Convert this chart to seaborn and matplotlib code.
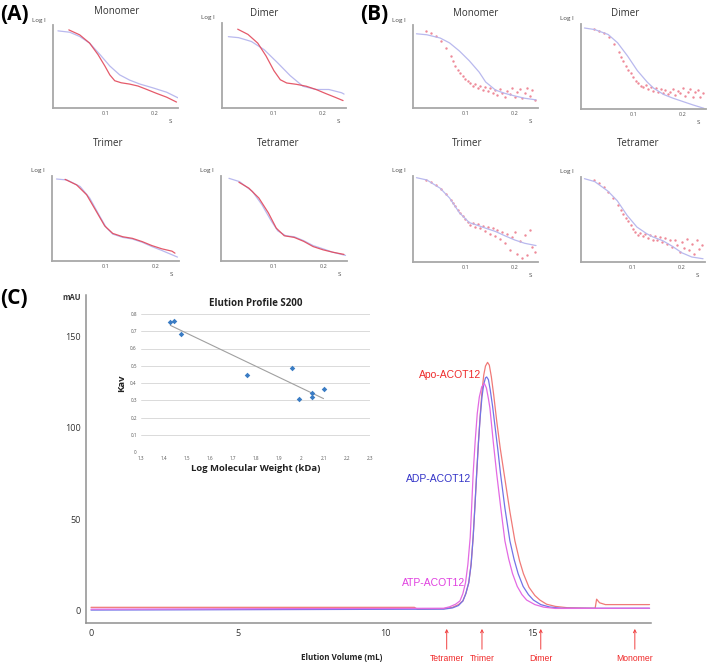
import numpy as np
import pandas as pd
import seaborn as sns
import matplotlib.pyplot as plt

W, H = 713, 664

# ---- SAXS fits, (A) and (B): s values and log I scaled to the axis height ----
a_mono_fit_s = [0.004, 0.028, 0.048, 0.068, 0.089, 0.109, 0.129, 0.149, 0.170, 0.197, 0.224, 0.247]
a_mono_fit_i = [0.948, 0.931, 0.879, 0.798, 0.657, 0.516, 0.407, 0.343, 0.294, 0.246, 0.194, 0.125]
a_mono_exp_s = [0.026, 0.048, 0.068, 0.085, 0.099, 0.109, 0.119, 0.132, 0.149, 0.166, 0.183, 0.203, 0.224, 0.244]
a_mono_exp_i = [0.960, 0.899, 0.798, 0.657, 0.516, 0.407, 0.335, 0.310, 0.294, 0.270, 0.230, 0.181, 0.133, 0.073]

a_dim_fit_s = [0.007, 0.028, 0.054, 0.080, 0.107, 0.133, 0.159, 0.186, 0.212, 0.238, 0.243]
a_dim_fit_i = [0.856, 0.844, 0.798, 0.700, 0.545, 0.389, 0.261, 0.222, 0.222, 0.183, 0.167]
a_dim_exp_s = [0.026, 0.047, 0.067, 0.084, 0.100, 0.113, 0.126, 0.146, 0.166, 0.186, 0.205, 0.225, 0.241]
a_dim_exp_i = [0.946, 0.883, 0.778, 0.623, 0.447, 0.339, 0.300, 0.284, 0.261, 0.222, 0.175, 0.128, 0.089]

a_tri_fit_s = [0.003, 0.024, 0.050, 0.069, 0.089, 0.102, 0.115, 0.135, 0.154, 0.174, 0.193, 0.213, 0.244]
a_tri_fit_i = [0.984, 0.972, 0.894, 0.756, 0.539, 0.402, 0.323, 0.283, 0.264, 0.224, 0.173, 0.126, 0.047]
a_tri_exp_s = [0.020, 0.043, 0.063, 0.082, 0.099, 0.115, 0.135, 0.154, 0.174, 0.193, 0.213, 0.233, 0.239]
a_tri_exp_i = [0.980, 0.913, 0.795, 0.598, 0.421, 0.331, 0.291, 0.272, 0.232, 0.185, 0.146, 0.118, 0.094]

a_tet_fit_s = [0.010, 0.031, 0.057, 0.076, 0.095, 0.108, 0.124, 0.141, 0.160, 0.179, 0.199, 0.218, 0.244]
a_tet_fit_i = [0.992, 0.953, 0.835, 0.677, 0.480, 0.362, 0.303, 0.291, 0.244, 0.185, 0.146, 0.106, 0.067]
a_tet_exp_s = [0.030, 0.050, 0.070, 0.089, 0.105, 0.121, 0.141, 0.160, 0.179, 0.199, 0.218, 0.241]
a_tet_exp_i = [0.945, 0.874, 0.756, 0.579, 0.394, 0.303, 0.283, 0.236, 0.173, 0.134, 0.106, 0.079]

b_fit_s = [0.001, 0.022, 0.049, 0.068, 0.088, 0.108, 0.128, 0.141, 0.161, 0.180, 0.200, 0.220, 0.243]
b_mono_fit_i = [0.912, 0.900, 0.860, 0.800, 0.700, 0.580, 0.440, 0.320, 0.220, 0.180, 0.148, 0.120, 0.100]
b_dim_fit_i = [0.972, 0.953, 0.894, 0.795, 0.638, 0.461, 0.323, 0.250, 0.175, 0.130, 0.090, 0.050, 0.008]
b_tri_fit_i = [1.000, 0.973, 0.875, 0.759, 0.584, 0.467, 0.428, 0.401, 0.362, 0.311, 0.261, 0.222, 0.195]
b_tet_fit_i = [1.000, 0.965, 0.850, 0.735, 0.560, 0.420, 0.340, 0.300, 0.255, 0.190, 0.110, 0.060, 0.039]

b_exp_s = [0.020, 0.030, 0.040, 0.050, 0.060, 0.070, 0.075, 0.080, 0.085, 0.090, 0.095, 0.100,
           0.105, 0.110, 0.115, 0.120, 0.125, 0.130, 0.135, 0.140, 0.145, 0.150, 0.155, 0.160,
           0.165, 0.170, 0.175, 0.180, 0.185, 0.190, 0.195, 0.200, 0.205, 0.210, 0.215, 0.220,
           0.225, 0.230, 0.235, 0.240]
b_mono_exp_i = [0.95, 0.92, 0.88, 0.82, 0.74, 0.64, 0.58, 0.52, 0.47, 0.43, 0.39, 0.36,
                0.33, 0.31, 0.27, 0.29, 0.25, 0.27, 0.22, 0.26, 0.21, 0.24, 0.18, 0.22,
                0.16, 0.23, 0.19, 0.14, 0.21, 0.17, 0.25, 0.13, 0.20, 0.23, 0.12, 0.18,
                0.24, 0.15, 0.22, 0.10]
b_dim_exp_i = [0.96, 0.94, 0.91, 0.86, 0.78, 0.69, 0.63, 0.58, 0.52, 0.47, 0.43, 0.38,
               0.34, 0.31, 0.28, 0.27, 0.29, 0.24, 0.27, 0.22, 0.25, 0.21, 0.24, 0.19,
               0.23, 0.18, 0.21, 0.24, 0.17, 0.22, 0.19, 0.25, 0.16, 0.21, 0.24, 0.15,
               0.20, 0.23, 0.14, 0.19]
b_tri_exp_i = [0.975, 0.95, 0.91, 0.87, 0.81, 0.74, 0.70, 0.66, 0.62, 0.58, 0.54, 0.51,
               0.47, 0.44, 0.46, 0.42, 0.45, 0.40, 0.43, 0.37, 0.42, 0.33, 0.40, 0.31,
               0.38, 0.27, 0.36, 0.22, 0.33, 0.14, 0.30, 0.36, 0.10, 0.25, 0.05, 0.32,
               0.08, 0.38, 0.18, 0.12]
b_tet_exp_i = [0.98, 0.95, 0.90, 0.84, 0.77, 0.68, 0.63, 0.58, 0.53, 0.49, 0.44, 0.40,
               0.36, 0.33, 0.35, 0.31, 0.34, 0.29, 0.33, 0.27, 0.31, 0.26, 0.30, 0.24,
               0.29, 0.22, 0.27, 0.18, 0.26, 0.20, 0.12, 0.24, 0.17, 0.28, 0.14, 0.22,
               0.10, 0.26, 0.16, 0.21]

# ---- (C) size exclusion traces: elution volume (mL), absorbance (mAU) ----
apo_ml = [0.0, 11.0, 11.1, 12.0, 12.3, 12.5, 12.65, 12.75, 12.85, 12.93, 13.0, 13.06, 13.12,
          13.18, 13.24, 13.30, 13.36, 13.42, 13.49, 13.55, 13.62, 13.70, 13.80, 13.92, 14.08,
          14.25, 14.42, 14.58, 14.71, 14.9, 15.1, 15.27, 15.5, 15.8, 16.2, 17.15, 17.2, 17.3,
          17.5, 19.0]
apo_mau = [1.5, 1.5, 0.5, 0.8, 1.5, 3, 5, 9, 15, 25, 40, 57, 75,
           92, 107, 120, 129, 134, 136, 134.5, 128, 118, 104, 89, 72,
           54, 38, 27, 20, 12.5, 8, 5.5, 3.2, 2, 1.3, 1.0, 6, 4,
           3, 3]
adp_ml = [0.0, 12.0, 12.3, 12.5, 12.65, 12.75, 12.85, 12.93, 13.0, 13.06, 13.12, 13.18,
          13.24, 13.30, 13.36, 13.42, 13.46, 13.52, 13.58, 13.66, 13.75, 13.84, 13.93, 14.08,
          14.25, 14.39, 14.53, 14.7, 14.88, 15.05, 15.3, 15.6, 16.0, 19.0]
adp_mau = [0, 0.5, 1.2, 2.5, 5, 9, 15, 25, 40, 57, 75, 92,
           106, 117, 124, 127.5, 128, 126.5, 121, 112, 100, 88, 75, 56,
           38, 28, 20, 13, 8.5, 5.5, 3, 1.7, 1.0, 1]
atp_ml = [0.0, 12.0, 12.2, 12.4, 12.55, 12.65, 12.74, 12.82, 12.9, 12.95, 13.0, 13.07,
          13.14, 13.21, 13.29, 13.38, 13.45, 13.52, 13.57, 13.68, 13.8, 13.94, 14.08, 14.21,
          14.34, 14.5, 14.66, 14.82, 15.1, 15.4, 15.8, 19.0]
atp_mau = [0.5, 1, 1.8, 3.2, 5, 9, 15, 25, 40, 57, 75, 93,
           108, 117, 122.5, 124.5, 122, 116, 111, 93, 75, 56, 38, 28,
           20, 13, 8.5, 5.5, 3, 1.6, 0.9, 1]

standard_names = ['Tetramer', 'Trimer', 'Dimer', 'Monomer']
standard_ml = [12.1, 13.3, 15.3, 18.5]

# ---- inset calibration ----
log_mw = [1.428, 1.446, 1.475, 1.761, 1.960, 1.992, 2.045, 2.045, 2.097]
kav = [0.753, 0.759, 0.683, 0.445, 0.485, 0.305, 0.342, 0.317, 0.363]

sns.set_theme(style="white")
plt.rcParams['font.family'] = ['Open Sans', 'DejaVu Sans']

BLUE = '#b9b9ee'
RED = '#e2485a'
PINK = '#ee8a98'
GREY = '#a8a8a8'

fig = plt.figure(figsize=(W / 100, H / 100), dpi=100)


def box(l, t, r, b):
    return fig.add_axes([l / W, 1 - b / H, (r - l) / W, (b - t) / H])


def saxs_panel(rect, title, title_xy, fit_s, fit_i, exp_s, exp_i, dots):
    ax = box(*rect)
    sns.lineplot(x=fit_s, y=fit_i, ax=ax, color=BLUE, lw=0.9, estimator=None)
    if dots:
        sns.scatterplot(x=exp_s, y=exp_i, ax=ax, color=PINK, s=3, linewidth=0)
    else:
        sns.lineplot(x=exp_s, y=exp_i, ax=ax, color=RED, lw=0.9, estimator=None, alpha=0.9)
    ax.set_xlim(-0.006, 0.247)
    ax.set_ylim(0, 1.02)
    ax.set_xticks([0.1, 0.2])
    ax.set_xticklabels(['0.1', '0.2'], fontsize=4, color='#555555')
    ax.set_yticks([])
    ax.tick_params(axis='x', length=0, pad=2)
    for side in ['top', 'right']:
        ax.spines[side].set_visible(False)
    for side in ['left', 'bottom']:
        ax.spines[side].set_color(GREY)
        ax.spines[side].set_linewidth(1.3)
    ax.text(-0.06, 1.03, 'Log I', transform=ax.transAxes, ha='right', va='bottom',
            fontsize=4.5, color='#444444')
    ax.text(0.94, -0.13, 'S', transform=ax.transAxes, ha='center', va='top',
            fontsize=4.5, color='#444444')
    fig.text(title_xy[0] / W, 1 - title_xy[1] / H, title, ha='center', va='center',
             fontsize=7, color='#333333')


saxs_panel((53, 25, 178, 108), 'Monomer', (117, 12), a_mono_fit_s, a_mono_fit_i, a_mono_exp_s, a_mono_exp_i, False)
saxs_panel((222, 23, 346, 108), 'Dimer', (264, 13), a_dim_fit_s, a_dim_fit_i, a_dim_exp_s, a_dim_exp_i, False)
saxs_panel((52, 176, 179, 261), 'Trimer', (108, 144), a_tri_fit_s, a_tri_fit_i, a_tri_exp_s, a_tri_exp_i, False)
saxs_panel((221, 176, 347, 261), 'Tetramer', (278, 144), a_tet_fit_s, a_tet_fit_i, a_tet_exp_s, a_tet_exp_i, False)
saxs_panel((413, 25, 538, 108), 'Monomer', (476, 13), b_fit_s, b_mono_fit_i, b_exp_s, b_mono_exp_i, True)
saxs_panel((581, 24, 706, 109), 'Dimer', (625, 13), b_fit_s, b_dim_fit_i, b_exp_s, b_dim_exp_i, True)
saxs_panel((413, 176, 538, 262), 'Trimer', (467, 144), b_fit_s, b_tri_fit_i, b_exp_s, b_tri_exp_i, True)
saxs_panel((581, 177, 705, 262), 'Tetramer', (638, 144), b_fit_s, b_tet_fit_i, b_exp_s, b_tet_exp_i, True)

for letter, x, y in [('(A)', 0, 15), ('(B)', 360, 15), ('(C)', 0, 298)]:
    fig.text(x / W, 1 - y / H, letter, ha='left', va='center', fontsize=15,
             fontweight='bold', color='black')

# ---- (C) main chromatogram ----
ax = box(86, 295, 651, 623)
sns.lineplot(x=apo_ml, y=apo_mau, ax=ax, color='#f07a78', lw=0.9, estimator=None)
sns.lineplot(x=adp_ml, y=adp_mau, ax=ax, color='#7373e6', lw=0.9, estimator=None)
sns.lineplot(x=atp_ml, y=atp_mau, ax=ax, color='#e36ae3', lw=0.9, estimator=None)
ax.set_xlim(-0.17, 19.05)
ax.set_ylim(-7.1, 173)
ax.set_xticks([0, 5, 10, 15])
ax.set_yticks([0, 50, 100, 150])
ax.tick_params(length=0, labelsize=6.5, labelcolor='#333333', pad=4)
for side in ['top', 'right']:
    ax.spines[side].set_visible(False)
for side in ['left', 'bottom']:
    ax.spines[side].set_color('#909090')
    ax.spines[side].set_linewidth(1.1)
ax.set_xlabel('')
ax.set_ylabel('')

ax.text(13.27, 129, 'Apo-ACOT12', ha='right', va='center', fontsize=7.5,
        color='#ee2b2b', family='Liberation Sans')
ax.text(12.95, 72, 'ADP-ACOT12', ha='right', va='center', fontsize=7.5,
        color='#3434c8', family='Liberation Sans')
ax.text(12.72, 14.8, 'ATP-ACOT12', ha='right', va='center', fontsize=7.5,
        color='#e040e0', family='Liberation Sans')

for name, ml in zip(standard_names, standard_ml):
    ax.annotate('', xy=(ml, -8.8), xytext=(ml, -23), annotation_clip=False,
                arrowprops=dict(arrowstyle='->', color='#f04040', lw=0.7,
                                mutation_scale=5))
    ax.text(ml, -26.4, name, ha='center', va='center', fontsize=6.2,
            color='#f02828', family='Liberation Sans', clip_on=False)

fig.text(342 / W, 1 - 658 / H, 'Elution Volume (mL)', ha='center', va='center',
         fontsize=5.8, fontweight='bold', color='#222222')
fig.text(72 / W, 1 - 297 / H, 'mAU', ha='center', va='center', fontsize=5.5,
         fontweight='bold', color='#333333')

# ---- inset: S200 calibration ----
ins = box(141, 314, 370, 452)
sns.scatterplot(x=log_mw, y=kav, ax=ins, marker='D', s=8, color='#3a7cc4', linewidth=0, zorder=3)
slope, intercept = np.polyfit(log_mw, kav, 1)
fit_x = np.array([min(log_mw), max(log_mw)])
sns.lineplot(x=fit_x, y=slope * fit_x + intercept, ax=ins, color='#a0a0a0', lw=0.8, estimator=None)
ins.set_xlim(1.3, 2.3)
ins.set_ylim(0, 0.8)
ins.set_xticks([1.3 + 0.1 * i for i in range(11)])
ins.set_xticklabels(['1.3', '1.4', '1.5', '1.6', '1.7', '1.8', '1.9', '2', '2.1', '2.2', '2.3'])
ins.set_yticks([0.1 * i for i in range(9)])
ins.set_yticklabels(['0', '0.1', '0.2', '0.3', '0.4', '0.5', '0.6', '0.7', '0.8'])
ins.tick_params(length=0, labelsize=3.3, labelcolor='#555555', pad=3)
ins.grid(axis='y', color='#d4d4d4', lw=0.6)
ins.set_axisbelow(True)
for side in ins.spines.values():
    side.set_visible(False)
ins.set_title('Elution Profile S200', fontsize=7, fontweight='bold', pad=6, color='#222222')
ins.set_xlabel('Log Molecular Weight (kDa)', fontsize=6.8, fontweight='bold', labelpad=2, color='#222222')
ins.set_ylabel('Kav', fontsize=6.8, fontweight='bold', labelpad=3, color='#222222')

fig.savefig('out.png', dpi=100)
